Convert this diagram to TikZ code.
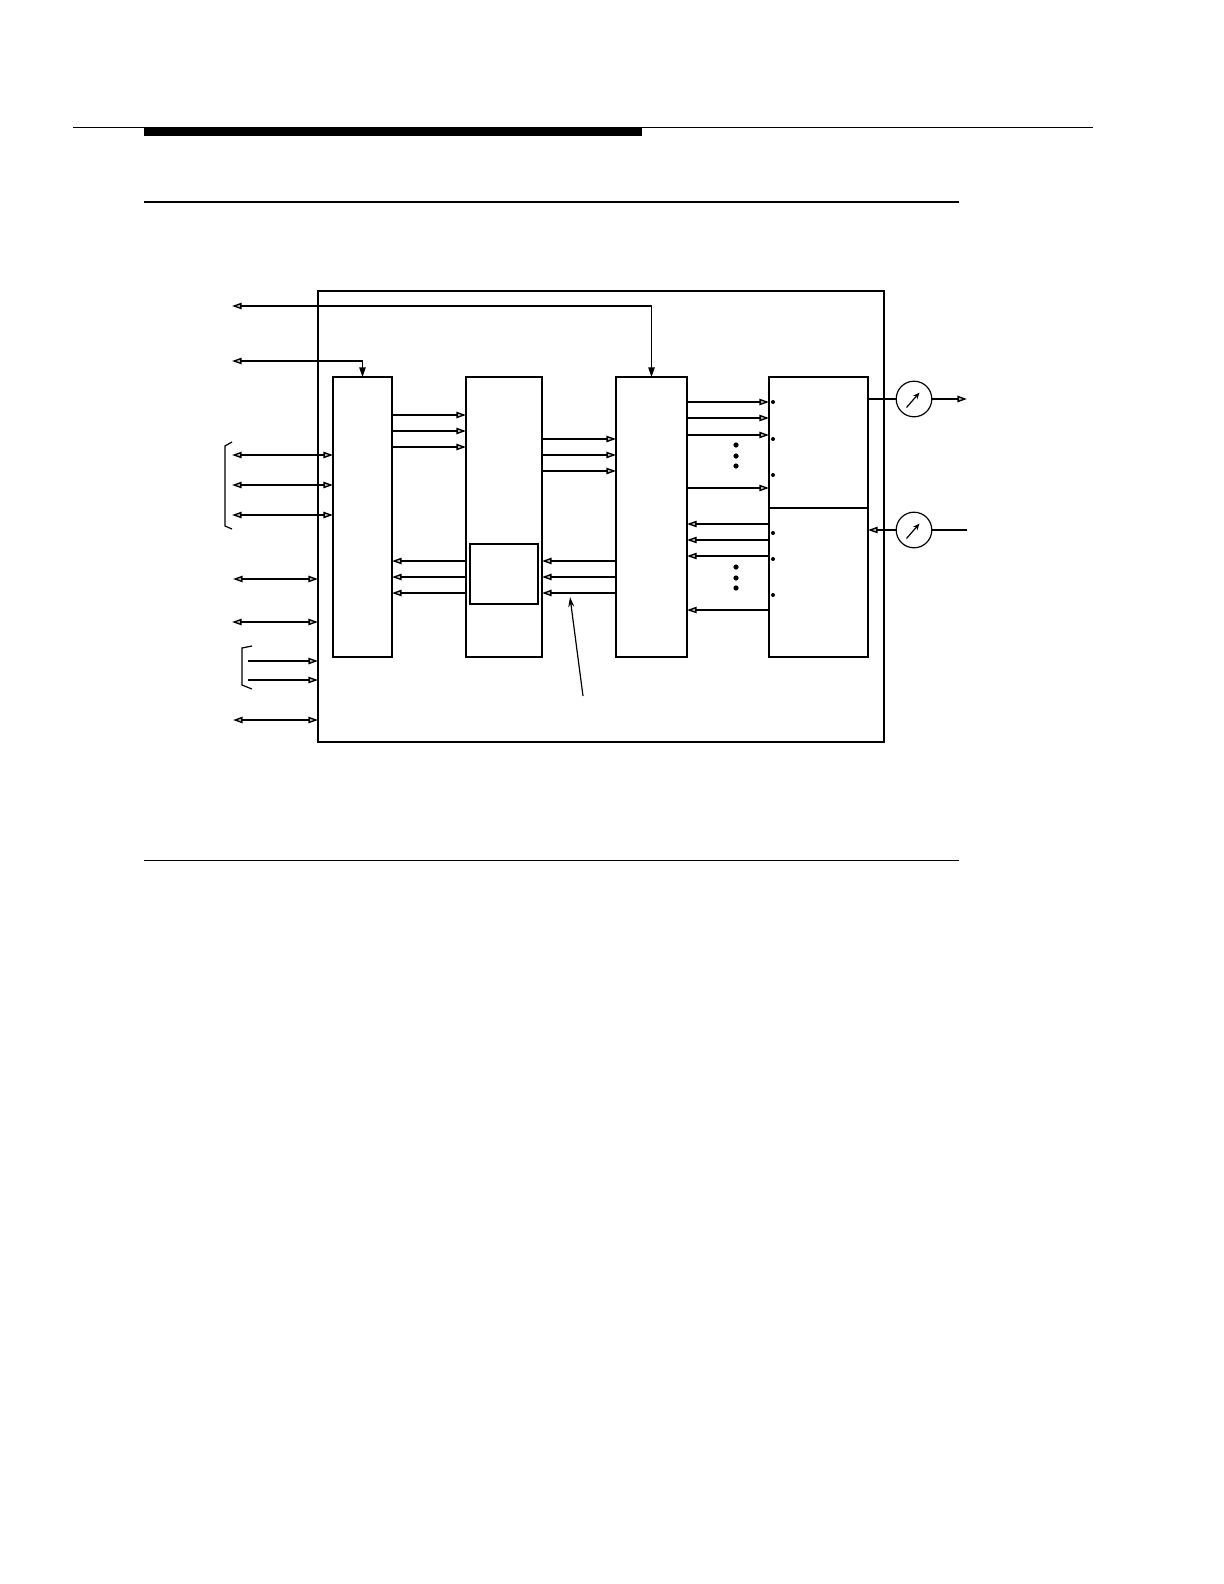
\documentclass[tikz,border=0pt]{standalone}
\usetikzlibrary{arrows.meta}
\begin{document}
\begin{tikzpicture}[x=0.5bp,y=-0.5bp, line width=0.6bp,
  >={Triangle[fill=gray!45,length=4.8bp,width=3.2bp,line width=0.7bp]},
  blk/.style={draw, inner sep=0pt, outer sep=0pt, anchor=north west},
  meter/.style={draw, circle, minimum size=17.8bp, inner sep=0pt, outer sep=0pt},
  downtip/.style={{Triangle[fill=gray!45,length=4.8bp,width=3.2bp,line width=0.7bp]}-{Triangle[length=4.8bp,width=3.2bp]}},
  needle/.style={-{Stealth[length=3.4bp,width=2.8bp]}},
  dotsm/.style={fill=black},
]
\useasboundingbox (0,0) rectangle (1224,1584);

% page rules
\draw[line width=0.5bp] (73,127) -- (1093,127);
\fill (144,128) rectangle (642,136);
\draw[line width=1bp] (144,202) -- (959,202);
\draw[line width=0.5bp] (144,860) -- (959,860);

% blocks
\node[blk, minimum width=283bp, minimum height=225.5bp] (frame) at (318,291) {};
\node[blk, minimum width=29.5bp, minimum height=140bp] (b1) at (333,377) {};
\node[blk, minimum width=38bp, minimum height=140bp] (b2) at (466,377) {};
\node[blk, minimum width=35.5bp, minimum height=140bp] (b3) at (616,377) {};
\node[blk, minimum width=49.5bp, minimum height=65.5bp] (b4a) at (769,377) {};
\node[blk, minimum width=49.5bp, minimum height=74.5bp] (b4b) at (769,508) {};
\node[blk, minimum width=34bp, minimum height=30bp] (mem) at (470,544) {};
\node[meter] (m1) at (914,399) {};
\node[meter] (m2) at (914,530) {};

% free ends
\coordinate (t1) at (232,306);
\coordinate (t2) at (232,361);
\coordinate (l1) at (232,455);
\coordinate (l2) at (232,485);
\coordinate (l3) at (232,515);
\coordinate (l4) at (233,579);
\coordinate (l5) at (232,622);
\coordinate (l6) at (248,661);
\coordinate (l7) at (248,680);
\coordinate (l8) at (233,720);
\coordinate (o1) at (967,399);
\coordinate (i2) at (967,530);
\coordinate (pt) at (583,696);
\coordinate (ptip) at (570,597);

% top feeds
\draw[downtip] (t1) -| (b3.north);
\draw[downtip] (t2) -| (b1.north);

% left signals
\foreach \c in {l1,l2,l3} \draw[<->] (\c) -- (\c -| b1.west);
\foreach \c in {l4,l5,l8} \draw[<->] (\c) -- (\c -| frame.west);
\foreach \c in {l6,l7} \draw[->] (\c) -- (\c -| frame.west);

% brackets
\draw (232,442) -- (225,446) -- (225,526) -- (232,529);
\draw (252,646) -- (242,648) -- (242,685) -- (252,689);

% inter-block buses
\foreach \y in {415,431,447} {\coordinate (h) at (0,\y); \draw[->] (b1.east |- h) -- (b2.west |- h);}
\foreach \y in {439,455,471} {\coordinate (h) at (0,\y); \draw[->] (b2.east |- h) -- (b3.west |- h);}
\foreach \y in {402,418,435,488} {\coordinate (h) at (0,\y); \draw[->] (b3.east |- h) -- (b4a.west |- h);}
\foreach \y in {524,540,556,610} {\coordinate (h) at (0,\y); \draw[->] (b4b.west |- h) -- (b3.east |- h);}
\foreach \y in {561,577,593} {\coordinate (h) at (0,\y); \draw[->] (b3.west |- h) -- (b2.east |- h);}
\foreach \y in {561,577,593} {\coordinate (h) at (0,\y); \draw[->] (b2.west |- h) -- (b1.east |- h);}

% dots
\foreach \y in {402,439,475,533,559,595} \fill[dotsm] (773,\y) circle (2);
\foreach \y in {445,456,466,567,578,588} \fill[dotsm] (736,\y) circle (2.6);

% meters
\draw (b4a.east |- m1) -- (m1.west);
\draw[->] (m1.east) -- (o1);
\draw[->] (m2.west) -- (b4b.east |- m2);
\draw (m2.east) -- (i2);
\draw[needle] ([shift={(-7.5,8.5)}]m1.center) -- ([shift={(5.5,-6.5)}]m1.center);
\draw[needle] ([shift={(-7.5,8.5)}]m2.center) -- ([shift={(5.5,-6.5)}]m2.center);

% pointer
\draw[-{Stealth[length=5bp,width=3bp]}] (pt) -- (ptip);
\end{tikzpicture}
\end{document}
